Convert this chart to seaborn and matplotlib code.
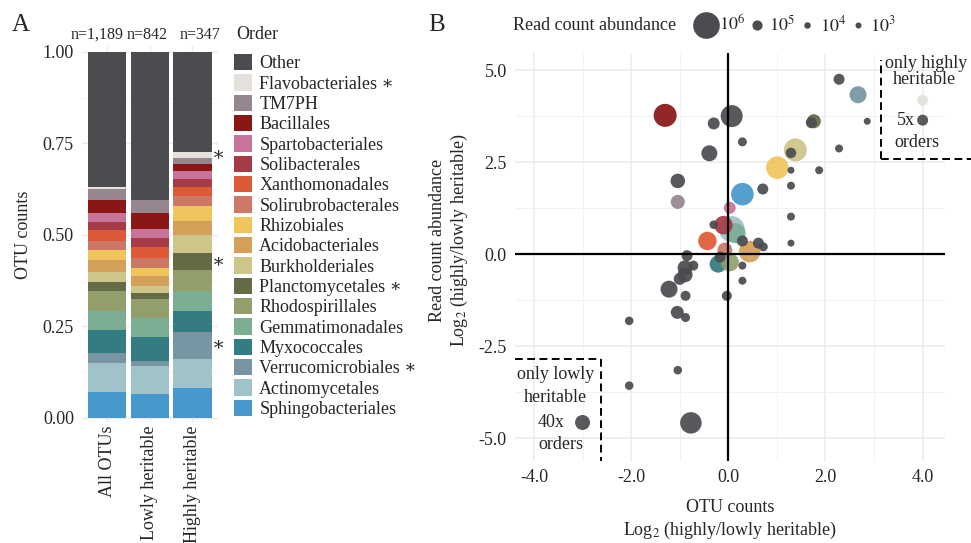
import numpy as np
import pandas as pd
import seaborn as sns
import matplotlib.pyplot as plt
from matplotlib.patches import Patch
from matplotlib.lines import Line2D
from matplotlib.ticker import MultipleLocator, FormatStrFormatter

sns.set_style("whitegrid")
plt.rcParams['font.family'] = ['Liberation Serif', 'DejaVu Serif']
plt.rcParams['mathtext.fontset'] = 'stix'

# 1. PANEL A DATA (fraction of OTUs per order, top of stack first)
ORDERS = ["Other", "Flavobacteriales", "TM7PH", "Bacillales", "Spartobacteriales",
          "Solibacterales", "Xanthomonadales", "Solirubrobacterales", "Rhizobiales",
          "Acidobacteriales", "Burkholderiales", "Planctomycetales", "Rhodospirillales",
          "Gemmatimonadales", "Myxococcales", "Verrucomicrobiales", "Actinomycetales",
          "Sphingobacteriales"]
COLORS = ["#4b4c50", "#e4e1dd", "#968690", "#8b1616", "#c8749a",
          "#a63b48", "#de5a36", "#cd7767", "#efc55c",
          "#d49f58", "#cec58a", "#666b47", "#939f6b",
          "#7cae94", "#327c82", "#7795a3", "#9fc3c9",
          "#4698cd"]
STARRED = ["Flavobacteriales", "Planctomycetales", "Verrucomicrobiales"]
GROUPS = ["All OTUs", "Lowly heritable", "Highly heritable"]
N_LABELS = ["n=1,189", "n=842", "n=347"]
N_LABEL_X = [-0.24, 0.93, 2.18]   # labels sit a bit off-centre in the original

all_otus = [0.370, 0.004, 0.030, 0.035, 0.025, 0.022, 0.030, 0.025, 0.027,
            0.032, 0.028, 0.024, 0.055, 0.053, 0.062, 0.029, 0.079, 0.070]
lowly = [0.404, 0.000, 0.037, 0.043, 0.024, 0.024, 0.031, 0.027, 0.021,
         0.029, 0.018, 0.016, 0.053, 0.051, 0.065, 0.014, 0.077, 0.066]
highly = [0.272, 0.018, 0.016, 0.018, 0.024, 0.022, 0.023, 0.028, 0.040,
          0.040, 0.047, 0.049, 0.055, 0.056, 0.056, 0.075, 0.079, 0.082]

# 2. PANEL B DATA (one row per order)
pt_order = ["Actinomycetales", "Bacillales", "Burkholderiales", "Rhizobiales",
            "Sphingobacteriales", "Acidobacteriales", "Gemmatimonadales", "Solibacterales",
            "Xanthomonadales", "Myxococcales", "Rhodospirillales", "Verrucomicrobiales",
            "Solirubrobacterales", "Planctomycetales", "TM7PH", "Spartobacteriales",
            "Flavobacteriales"] + ["Other"] * 39
pt_otu = [0.07, -1.30, 1.38, 1.01, 0.29, 0.44, 0.15, -0.10, -0.43, -0.21, 0.03, 2.67,
          -0.07, 1.76, -1.04, 0.03, 4.00,
          2.28, 0.07, -0.30, 1.71, 2.86, 0.29, -0.39, 1.29, 2.28, 1.29, 1.87, -1.04,
          0.71, 1.29, 1.29, -0.30, 0.29, 0.62, 0.72, 1.29, -0.85, -0.17, -0.72, 0.29,
          -0.89, -0.89, -1.00, 0.29, -1.22, -0.88, -0.03, -1.05, -0.88, -2.04, -1.04,
          -2.04, -0.77, 4.00, -3.00]
pt_read = [0.68, 3.77, 2.83, 2.35, 1.63, 0.07, 0.57, 0.79, 0.36, -0.27, -0.22, 4.33,
           0.11, 3.61, 1.42, 1.26, 4.18,
           4.75, 3.75, 3.55, 3.57, 3.61, 3.05, 2.74, 2.75, 2.87, 2.28, 2.28, 1.99,
           1.77, 1.86, 1.02, 0.80, 0.36, 0.30, 0.20, 0.30, -0.04, -0.08, -0.31, -0.31,
           -0.37, -0.56, -0.67, -0.72, -0.95, -1.13, -1.13, -1.58, -1.72, -1.81, -3.15,
           -3.57, -4.58, 3.64, -4.57]
pt_reads = [950e3, 730e3, 730e3, 700e3, 700e3, 630e3, 540e3, 450e3, 450e3, 375e3, 430e3,
            375e3, 280e3, 240e3, 240e3, 160e3, 127e3,
            127e3, 663e3, 160e3, 127e3, 20e3, 67e3, 326e3, 111e3, 42e3, 20e3, 42e3, 258e3,
            127e3, 42e3, 42e3, 55e3, 127e3, 127e3, 67e3, 20e3, 127e3, 127e3, 95e3, 42e3,
            280e3, 280e3, 160e3, 42e3, 375e3, 95e3, 95e3, 197e3, 67e3, 55e3, 55e3,
            55e3, 630e3, 127e3, 280e3]
LEGEND_READS = [1e6, 1e5, 1e4, 1e3]
LEGEND_TEXT = ["$10^6$", "$10^5$", "$10^4$", "$10^3$"]

palette = dict(zip(ORDERS, COLORS))
SIZES = (18.7, 369.0)
SIZE_NORM = (1e3, 1e6)
FS = 13

fig = plt.figure(figsize=(9.71, 5.43), dpi=100)
ax1 = fig.add_axes([0.0840, 0.2201, 0.1405, 0.6943])
ax2 = fig.add_axes([0.5304, 0.1514, 0.4428, 0.7501])

# 3. PANEL A: stacked bars (layered cumulative bars)
bars = pd.DataFrame({
    "order": ORDERS * 3,
    "group": np.repeat(GROUPS, len(ORDERS)),
    "frac": all_otus + lowly + highly,
})
bars["top"] = bars.groupby("group", sort=False)["frac"].transform(
    lambda s: s.values[::-1].cumsum()[::-1])

for o in ORDERS:
    sns.barplot(data=bars[bars.order == o], x="group", y="top", order=GROUPS,
                color=palette[o], saturation=1, width=0.9, errorbar=None,
                linewidth=0, ax=ax1, zorder=2)

ax1.set_xlim(-0.6, 2.6)
ax1.set_ylim(-0.015, 1.015)
ax1.yaxis.set_major_locator(MultipleLocator(0.25))
ax1.yaxis.set_minor_locator(MultipleLocator(0.125))
ax1.yaxis.set_major_formatter(FormatStrFormatter('%.2f'))
ax1.grid(which='major', color='#ebebeb', lw=1.0)
ax1.grid(which='minor', axis='y', color='#f3f3f3', lw=0.6)
ax1.set_axisbelow(True)
ax1.set_xlabel("")
ax1.set_ylabel("")
ax1.tick_params(axis='both', which='both', length=0, labelsize=FS)
ax1.tick_params(axis='y', pad=5.5)
ax1.tick_params(axis='x', pad=1.5)
ax1.set_xticks(range(len(GROUPS)))
ax1.set_xticklabels(GROUPS, rotation=90)
for s in ax1.spines.values():
    s.set_visible(False)

for xpos, lab in zip(N_LABEL_X, N_LABELS):
    ax1.text(xpos, 1.046, lab, ha='center', va='center', fontsize=11.5, clip_on=False)

hi = bars[bars.group == GROUPS[2]].set_index("order")
for o in STARRED:
    mid = hi.loc[o, "top"] - hi.loc[o, "frac"] / 2
    ax1.text(2.47, mid, "\u2217", ha='left', va='center', fontsize=14, clip_on=False)

fig.text(23 / 971, 0.567, "OTU counts", rotation=90, ha='center', va='center', fontsize=FS)

# order legend (title placed separately to match the wider gap)
fig.text(236 / 971, 1 - 35 / 543, "Order", ha='left', va='center', fontsize=FS)
order_handles = [Patch(facecolor=palette[o], edgecolor='none') for o in ORDERS]
order_labels = [o + " \u2217" if o in STARRED else o for o in ORDERS]
fig.legend(order_handles, order_labels, loc='upper left', bbox_to_anchor=(234 / 971, 1 - 54 / 543),
           frameon=False, fontsize=FS,
           handlelength=1.0, handleheight=1.0, handletextpad=0.4, labelspacing=0.115,
           borderpad=0, borderaxespad=0, alignment='left')

# 4. PANEL B: log2 fold-change scatter
pts = pd.DataFrame({"order": pt_order, "otu": pt_otu, "read": pt_read, "reads": pt_reads})
sns.scatterplot(data=pts, x="otu", y="read", hue="order", hue_order=ORDERS, palette=palette,
                size="reads", sizes=SIZES, size_norm=SIZE_NORM, linewidth=0, alpha=0.93,
                legend=False, ax=ax2, zorder=3)

XLIM = (-4.39, 4.46)
YLIM = (-5.61, 5.45)
ax2.set_xlim(*XLIM)
ax2.set_ylim(*YLIM)
ax2.axhline(0, color='black', lw=1.6, zorder=4)
ax2.axvline(0, color='black', lw=1.6, zorder=4)

# only-highly / only-lowly boxes
HI_X, HI_Y, HI_TOP, HI_RIGHT = 3.15, 2.59, 5.28, 4.99
LO_X, LO_Y = -2.63, -2.84
dash = (0, (4, 2.3))
ax2.plot([HI_X, HI_X], [HI_Y, HI_TOP], color='black', lw=1.4, ls=dash, zorder=4, clip_on=False)
ax2.plot([HI_X, HI_RIGHT], [HI_Y, HI_Y], color='black', lw=1.4, ls=dash, zorder=4, clip_on=False)
ax2.plot([LO_X, LO_X], [LO_Y, YLIM[0]], color='black', lw=1.4, ls=dash, zorder=4, clip_on=False)
ax2.plot([XLIM[0], LO_X], [LO_Y, LO_Y], color='black', lw=1.4, ls=dash, zorder=4, clip_on=False)

ax2.text(4.08, 5.17, "only highly", ha='center', va='center', fontsize=FS, clip_on=False)
ax2.text(4.03, 4.74, "heritable", ha='center', va='center', fontsize=FS, clip_on=False)
ax2.text(3.66, 3.62, "5x", ha='center', va='center', fontsize=FS, clip_on=False)
ax2.text(3.89, 3.04, "orders", ha='center', va='center', fontsize=FS, clip_on=False)
ax2.text(-3.55, -3.26, "only lowly", ha='center', va='center', fontsize=FS, clip_on=False)
ax2.text(-3.55, -3.88, "heritable", ha='center', va='center', fontsize=FS, clip_on=False)
ax2.text(-3.64, -4.57, "40x", ha='center', va='center', fontsize=FS, clip_on=False)
ax2.text(-3.44, -5.17, "orders", ha='center', va='center', fontsize=FS, clip_on=False)

ax2.xaxis.set_major_locator(MultipleLocator(2))
ax2.xaxis.set_minor_locator(MultipleLocator(1))
ax2.yaxis.set_major_locator(MultipleLocator(2.5))
ax2.yaxis.set_minor_locator(MultipleLocator(1.25))
ax2.xaxis.set_major_formatter(FormatStrFormatter('%.1f'))
ax2.yaxis.set_major_formatter(FormatStrFormatter('%.1f'))
ax2.grid(which='major', color='#ebebeb', lw=1.1)
ax2.grid(which='minor', color='#f2f2f2', lw=0.7)
ax2.set_axisbelow(True)
ax2.tick_params(axis='both', which='both', length=0, labelsize=FS)
ax2.tick_params(axis='y', pad=6)
ax2.tick_params(axis='x', pad=6)
ax2.set_xlabel("")
ax2.set_ylabel("")
for s in ax2.spines.values():
    s.set_visible(False)

fig.text(730 / 971, 1 - 507 / 543, "OTU counts", ha='center', va='center', fontsize=FS)
fig.text(730 / 971, 1 - 530 / 543, "Log$_2$ (highly/lowly heritable)", ha='center', va='center', fontsize=FS)
fig.text(437 / 971, 1 - 240 / 543, "Read count abundance", rotation=90, ha='center', va='center', fontsize=FS)
fig.text(459 / 971, 1 - 240 / 543, "Log$_2$ (highly/lowly heritable)", rotation=90, ha='center', va='center', fontsize=FS)

# size legend across the top
def marker_area(c):
    return SIZES[0] + (SIZES[1] - SIZES[0]) * (c - SIZE_NORM[0]) / (SIZE_NORM[1] - SIZE_NORM[0])

size_handles = [Line2D([0], [0], marker='o', ls='', markerfacecolor=palette["Other"],
                       markeredgewidth=0, markersize=np.sqrt(marker_area(c))) for c in LEGEND_READS]
fig.text(513 / 971, 1 - 26 / 543, "Read count abundance", ha='left', va='center', fontsize=FS)
fig.legend(size_handles, LEGEND_TEXT, loc='center left', bbox_to_anchor=(699 / 971, 1 - 25 / 543),
           ncol=4, frameon=False, fontsize=FS, handlelength=0.8, handletextpad=0.3,
           columnspacing=0.25, borderpad=0, borderaxespad=0)

fig.text(12 / 971, 0.975, "A", ha='left', va='top', fontsize=18)
fig.text(428 / 971, 0.975, "B", ha='left', va='top', fontsize=18)

fig.savefig("out.png", dpi=100)
